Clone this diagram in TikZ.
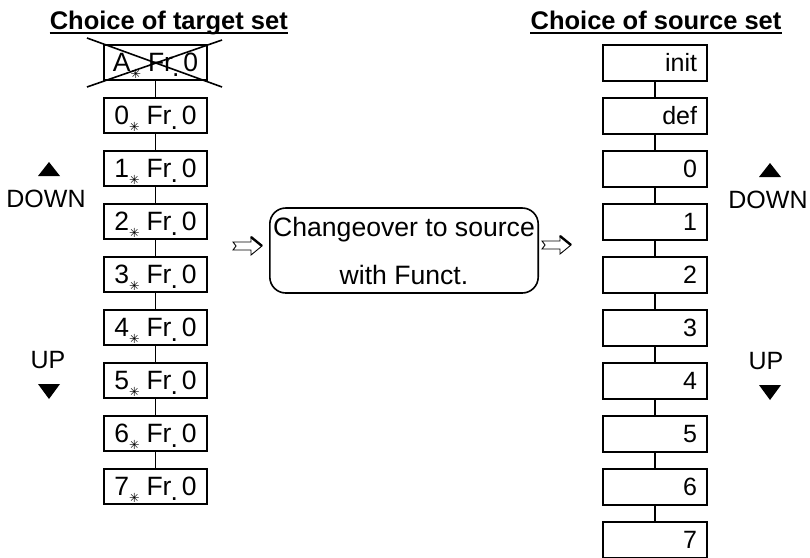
\documentclass[tikz,border=0pt]{standalone}
\usepackage{fontspec}
\setmainfont{Liberation Sans}
\newfontfamily\symf{DejaVu Sans}
\usetikzlibrary{calc}
\newcommand\frlab[1]{#1\kern0pt\raisebox{-7.5pt}{\symf\fontsize{12.5}{12}\selectfont ✳}\kern7pt Fr\kern-1pt\raisebox{-5pt}{.}\kern4pt 0}
\begin{document}
\begin{tikzpicture}[x=1pt,y=-1pt,
  every node/.style={font=\fontsize{25}{30}\selectfont},
  lbox/.style={draw, line width=1.6pt, minimum width=103pt, minimum height=35pt, inner sep=0pt, text height=17.5pt, text depth=0pt, font=\fontsize{26.5}{30}\selectfont},
  rbox/.style={draw, line width=1.6pt, minimum width=104pt, minimum height=36pt, inner sep=0pt, text width=84pt, align=right, text height=17.5pt, text depth=0pt},
  conn/.style={line width=1.6pt},
  ttl/.style={font=\bfseries\fontsize{25.5}{30}\selectfont, inner sep=0pt},
  lbl/.style={inner sep=0pt},
  hollow/.style={line width=0.9pt, fill=white, line join=miter}]
\path[use as bounding box] (0,0) rectangle (810,557);

% titles
\node[ttl, anchor=base east] (tl) at (288,29) {Choice of target set};
\draw[line width=2pt] ($(tl.base west)+(0,4)$) -- ($(tl.base east)+(0,4)$);
\node[ttl, anchor=base] (tr) at (656,29) {Choice of source set};
\draw[line width=2pt] ($(tr.base west)+(0,4)$) -- ($(tr.base east)+(0,4)$);

% left column
\node[lbox] (l0) at (155.5,62.5) {\frlab{A}};
\foreach \i in {0,...,7}{
  \pgfmathtruncatemacro{\j}{\i+1}
  \node[lbox] (l\j) at (155.5,{62.5+53*(\i+1)}) {\frlab{\i}};
}
\foreach \i in {0,...,7}{
  \pgfmathtruncatemacro{\j}{\i+1}
  \draw[conn] (l\i.south) -- (l\j.north);
}
\draw[line width=1.6pt] (87,38) -- (222,87);
\draw[line width=1.6pt] (87,87) -- (222,40);

% right column
\node[rbox] (r0) at (655,63) {init};
\node[rbox] (r1) at (655,116) {def};
\foreach \i in {0,...,7}{
  \pgfmathtruncatemacro{\j}{\i+2}
  \node[rbox] (r\j) at (655,{63+53*(\i+2)}) {\i};
}
\foreach \i in {0,...,8}{
  \pgfmathtruncatemacro{\j}{\i+1}
  \draw[conn] (r\i.south) -- (r\j.north);
}

% centre box
\node[draw, line width=1.6pt, rounded corners=16pt, minimum width=268pt, minimum height=85pt,
      align=center, font=\fontsize{26.6}{48}\selectfont] (cb) at (404,250.5)
      {Changeover to source\\with Funct.};

% hollow arrows
\begin{scope}[shift={(233,246)}]
  \draw[hollow] (0,-4) -- (18,-4) -- (18,-9) -- (29,0) -- (18,9) -- (18,4) -- (0,4) -- (3,0) -- cycle;
  \draw[line width=2.4pt] (18,-9) -- (29,0);
\end{scope}
\begin{scope}[shift={(542,245)}]
  \draw[hollow] (0,-4) -- (18,-4) -- (18,-9) -- (29,0) -- (18,9) -- (18,4) -- (0,4) -- (3,0) -- cycle;
  \draw[line width=2.4pt] (18,-9) -- (29,0);
\end{scope}

% up/down labels
\fill (38,176) -- (60,176) -- (49,162) -- cycle;
\node[lbl] (ldown) at (46,199) {DOWN};
\node[lbl] (lup) at (48,360) {UP};
\fill (38,384) -- (60,384) -- (49,399) -- cycle;
\fill (759,177) -- (781,177) -- (770,163) -- cycle;
\node[lbl] (rdown) at (768,200) {DOWN};
\node[lbl] (rup) at (766,361) {UP};
\fill (759,385) -- (781,385) -- (770,400) -- cycle;
\end{tikzpicture}
\end{document}
